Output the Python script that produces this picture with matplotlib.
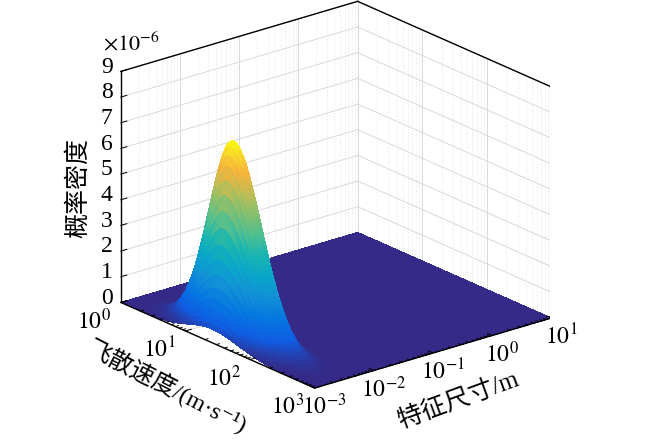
import numpy as np
import matplotlib
matplotlib.use("Agg")
import matplotlib.pyplot as plt
from matplotlib.colors import LinearSegmentedColormap

plt.rcParams['font.family'] = ['Liberation Serif', 'Noto Sans CJK SC', 'DejaVu Sans']
plt.rcParams['mathtext.fontset'] = 'stix'

# distribution (log10 space)
speed_mu_log = 1.40        # log10 of flying speed at the peak, m/s
speed_sigma_low = 0.35     # spread towards slower fragments
speed_sigma_high = 0.42    # spread towards faster fragments
size_mu_log = -2.63        # log10 of characteristic size at the peak, m
size_sigma_log = 0.16
peak_density = 7.6e-6

speed_ticks = [0, 1, 2, 3]
speed_labels = [r'$10^{0}$', r'$10^{1}$', r'$10^{2}$', r'$10^{3}$']
size_ticks = [-3, -2, -1, 0, 1]
size_labels = [r'$10^{-3}$', r'$10^{-2}$', r'$10^{-1}$', r'$10^{0}$', r'$10^{1}$']
z_ticks = [0, 1, 2, 3, 4, 5, 6, 7, 8, 9]

# parula-like colormap
parula = LinearSegmentedColormap.from_list('parula', [
    (0.00, (0.208, 0.166, 0.529)),
    (0.10, (0.060, 0.365, 0.890)),
    (0.20, (0.020, 0.470, 0.880)),
    (0.30, (0.070, 0.570, 0.840)),
    (0.40, (0.040, 0.650, 0.790)),
    (0.50, (0.100, 0.710, 0.690)),
    (0.60, (0.330, 0.750, 0.550)),
    (0.70, (0.550, 0.750, 0.420)),
    (0.78, (0.750, 0.740, 0.330)),
    (0.87, (0.970, 0.700, 0.230)),
    (0.94, (0.970, 0.840, 0.170)),
    (1.00, (0.976, 0.984, 0.055)),
])

sv = np.linspace(0, 3, 181)
sd = np.linspace(-3, 1, 181)
X, Y = np.meshgrid(sv, sd)
sig_v = np.where(X < speed_mu_log, speed_sigma_low, speed_sigma_high)
Z = peak_density * np.exp(-0.5 * ((X - speed_mu_log) / sig_v) ** 2
                          - 0.5 * ((Y - size_mu_log) / size_sigma_log) ** 2)

fig = plt.figure(figsize=(6.5, 4.4), dpi=100)
ax = fig.add_axes([0.008, 0.044, 1.0, 1.0], projection='3d', proj_type='ortho')
ax.view_init(elev=21.2, azim=-39.3)
ax.set_box_aspect((1, 1, 0.81), zoom=1.1)
ax.set_axis_off()

zmax = 9e-6
ax.set_xlim(0, 3)
ax.set_ylim(-3, 1)
ax.set_zlim(0, zmax)

# grid on the back walls and the floor (drawn before the surface)
major_c = (0.85, 0.85, 0.85)
minor_c = (0.89, 0.89, 0.89)
minor = np.log10(np.arange(2, 10))
for t in speed_ticks:
    ax.plot([t, t], [1, 1], [0, zmax], color=major_c, lw=0.7)
    ax.plot([t, t], [-3, 1], [0, 0], color=major_c, lw=0.7)
for t in size_ticks:
    ax.plot([0, 0], [t, t], [0, zmax], color=major_c, lw=0.7)
    ax.plot([0, 3], [t, t], [0, 0], color=major_c, lw=0.7)
for t in z_ticks:
    ax.plot([0, 0], [-3, 1], [t * 1e-6, t * 1e-6], color=major_c, lw=0.7)
    ax.plot([0, 3], [1, 1], [t * 1e-6, t * 1e-6], color=major_c, lw=0.7)
for d in range(0, 3):
    for m in minor:
        ax.plot([d + m, d + m], [1, 1], [0, zmax], color=minor_c,
                lw=0.5, ls=(0, (2, 2)))
        ax.plot([d + m, d + m], [-3, 1], [0, 0], color=minor_c,
                lw=0.5, ls=(0, (2, 2)))
for d in range(-3, 1):
    for m in minor:
        ax.plot([0, 0], [d + m, d + m], [0, zmax], color=minor_c,
                lw=0.5, ls=(0, (2, 2)))
        ax.plot([0, 3], [d + m, d + m], [0, 0], color=minor_c,
                lw=0.5, ls=(0, (2, 2)))

ax.plot_surface(X, Y, Z, cmap=parula, vmin=0, vmax=Z.max(), rstride=1, cstride=1,
                linewidth=0, antialiased=False, shade=False)

# box frame edges
kw = dict(color='k', lw=1.0, zorder=1000)
ax.plot([0, 0], [-3, -3], [0, zmax], **kw)
ax.plot([0, 0], [-3, 1], [zmax, zmax], **kw)
ax.plot([0, 3], [1, 1], [zmax, zmax], **kw)
ax.plot([3, 3], [1, 1], [0, zmax], **kw)
ax.plot([0, 3], [-3, -3], [0, 0], **kw)
ax.plot([3, 3], [-3, 1], [0, 0], **kw)

# tick marks, pointing inwards
tk = dict(color='k', lw=0.7, zorder=1000)
for t in speed_ticks:
    ax.plot([t, t], [-3, -2.9], [0, 0], **tk)
for t in size_ticks:
    ax.plot([3, 2.93], [t, t], [0, 0], **tk)
for d in range(0, 3):
    for m in minor:
        ax.plot([d + m, d + m], [-3, -2.95], [0, 0], **tk)
for d in range(-3, 1):
    for m in minor:
        ax.plot([3, 2.965], [d + m, d + m], [0, 0], **tk)
for t in z_ticks:
    ax.plot([0, 0], [-3, -2.9], [t * 1e-6, t * 1e-6], **tk)

# tick labels: project the 3D anchor points to 2D and place plain texts there
M = ax.get_proj()


def to2d(x, y, z):
    p = M @ np.array([x, y, z, 1.0])
    return p[0] / p[3], p[1] / p[3]


tkw = dict(fontsize=17, ha='center', va='center', transform=ax.transData)
for t, s in zip(speed_ticks, speed_labels):
    ax.text2D(*to2d(t, -3.45, -0.42e-6), s, **tkw)
for t, s in zip(size_ticks, size_labels):
    ax.text2D(*to2d(3.15, t, -0.56e-6), s, **tkw)
for t in z_ticks:
    ax.text2D(*to2d(0, -3.14, t * 1e-6 + 0.26e-6), str(t), fontsize=17,
              ha='right', va='center', transform=ax.transData)

fig.text(0.158, 0.9, r'$\times10^{-6}$', fontsize=16, ha='left', va='center')
fig.text(0.12, 0.573, '概率密度', fontsize=18, rotation=90, ha='center', va='center')
fig.text(0.257, 0.12, '飞散速度/(m·s⁻¹)', fontsize=17.5, rotation=-27,
         ha='center', va='center')
fig.text(0.705, 0.09, '特征尺寸/m', fontsize=18, rotation=20,
         ha='center', va='center')

fig.savefig('out.png', dpi=100)
